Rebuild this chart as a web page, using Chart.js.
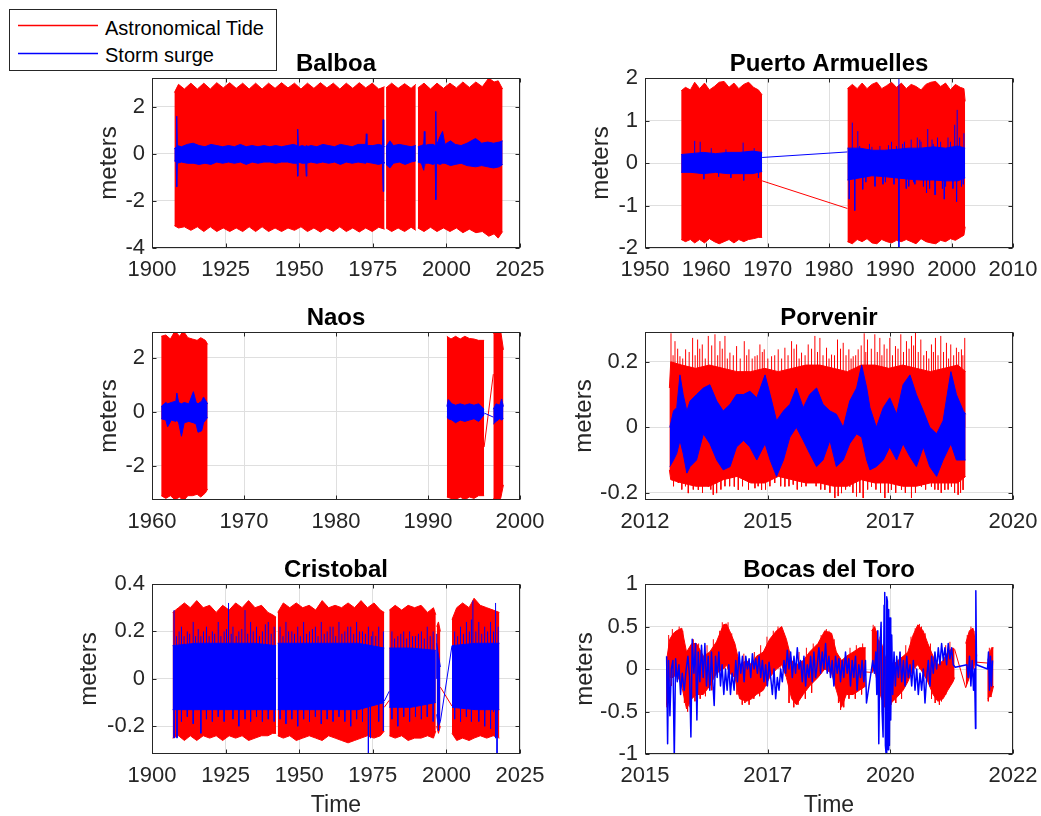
<!DOCTYPE html>
<html>
<head>
<meta charset="utf-8">
<title>Astronomical tide and storm surge</title>
<script src="https://cdn.jsdelivr.net/npm/chart.js@4.4.1/dist/chart.umd.min.js"></script>
<style>
  html, body { margin:0; padding:0; background:#ffffff; }
  body { width:1041px; height:816px; position:relative; overflow:hidden; font-family:'Liberation Sans', Arial, Helvetica, sans-serif; }
  canvas.panel { position:absolute; }
  #legend { position:absolute; left:9px; top:9px; width:268px; height:62px; box-sizing:border-box; border:1px solid #262626; background:#fff; z-index:5; }
  #legend canvas { position:absolute; left:8px; }
  #legend .lbl { position:absolute; left:95px; font-size:20px; line-height:20px; color:#000; white-space:nowrap; }
</style>
</head>
<body>
<div id="legend">
  <canvas id="sw0" width="80" height="3" style="top:14px;"></canvas>
  <div class="lbl" id="lb0" style="top:8px;"></div>
  <canvas id="sw1" width="80" height="3" style="top:42px;"></canvas>
  <div class="lbl" id="lb1" style="top:35px;"></div>
</div>
<script>
// ---------------- labels ----------------
const legendLabels = ['Astronomical Tide', 'Storm surge'];
const panelTitles = ['Balboa', 'Puerto Armuelles', 'Naos', 'Porvenir', 'Cristobal', 'Bocas del Toro'];
const yAxisLabel = 'meters';
const xAxisLabel = 'Time';

// ---------------- tick values / labels ----------------
const balboaXTicks = [1900, 1925, 1950, 1975, 2000, 2025];
const balboaXTickLabels = ['1900', '1925', '1950', '1975', '2000', '2025'];
const balboaYTicks = [-4, -2, 0, 2];
const balboaYTickLabels = ['-4', '-2', '0', '2'];
const puertoXTicks = [1950, 1960, 1970, 1980, 1990, 2000, 2010];
const puertoXTickLabels = ['1950', '1960', '1970', '1980', '1990', '2000', '2010'];
const puertoYTicks = [-2, -1, 0, 1, 2];
const puertoYTickLabels = ['-2', '-1', '0', '1', '2'];
const naosXTicks = [1960, 1970, 1980, 1990, 2000];
const naosXTickLabels = ['1960', '1970', '1980', '1990', '2000'];
const naosYTicks = [-2, 0, 2];
const naosYTickLabels = ['-2', '0', '2'];
const porvenirXTicks = [2012, 2014.667, 2017.333, 2020];
const porvenirXTickLabels = ['2012', '2015', '2017', '2020'];
const porvenirYTicks = [-0.2, 0, 0.2];
const porvenirYTickLabels = ['-0.2', '0', '0.2'];
const cristobalXTicks = [1900, 1925, 1950, 1975, 2000, 2025];
const cristobalXTickLabels = ['1900', '1925', '1950', '1975', '2000', '2025'];
const cristobalYTicks = [-0.2, 0, 0.2, 0.4];
const cristobalYTickLabels = ['-0.2', '0', '0.2', '0.4'];
const bocasXTicks = [2015, 2017.333, 2019.667, 2022];
const bocasXTickLabels = ['2015', '2017', '2020', '2022'];
const bocasYTicks = [-1, -0.5, 0, 0.5, 1];
const bocasYTickLabels = ['-1', '-0.5', '0', '0.5', '1'];

// ---------------- Balboa ----------------
const balboaTideX = [1907.6,1909.0,1911.0,1913.2,1915.4,1917.6,1919.8,1922.0,1924.2,1926.4,1928.6,1930.8,1933.0,1935.2,1937.4,1939.6,1941.8,1944.0,1946.2,1948.4,1950.6,1952.8,1955.0,1957.2,1959.4,1961.6,1963.8,1966.0,1968.2,1970.4,1972.6,1974.8,1977.0,1979.0,null,1979.5,1981.4,1983.6,1985.8,1988.0,1989.6,null,1990.3,1992.4,1994.6,1996.8,1999.0,2001.2,2003.4,2005.6,2007.8,2010.0,2012.2,2014.4,2016.2,2017.6,2019.1];
const balboaTideHi = [2.6,2.95,2.75,3.0,2.75,3.0,2.75,3.02,2.8,3.02,2.78,3.0,2.75,3.0,2.75,3.0,2.78,3.02,2.8,3.0,2.75,3.0,2.78,3.02,2.8,3.0,2.75,3.0,2.78,3.02,2.8,3.0,2.75,2.85,null,2.8,3.0,2.78,2.98,2.78,2.95,null,2.8,3.0,2.75,3.0,2.78,3.0,2.8,3.05,2.82,3.05,2.85,3.22,3.05,3.1,2.75];
const balboaTideLo = [-3.05,-3.15,-3.1,-3.25,-3.1,-3.3,-3.1,-3.3,-3.15,-3.3,-3.15,-3.3,-3.1,-3.3,-3.1,-3.3,-3.15,-3.3,-3.15,-3.25,-3.1,-3.3,-3.15,-3.32,-3.15,-3.3,-3.1,-3.3,-3.15,-3.32,-3.15,-3.3,-3.12,-3.2,null,-3.15,-3.3,-3.15,-3.3,-3.12,-3.25,null,-3.15,-3.3,-3.12,-3.3,-3.15,-3.3,-3.15,-3.35,-3.2,-3.35,-3.3,-3.5,-3.4,-3.58,-3.3];
const balboaSurgeX = [1907.6,1908.2,1908.4,1908.6,1910,1912,1914,1916,1918,1920,1922,1924,1926,1928,1930,1932,1934,1936,1938,1940,1942,1944,1946,1948,1949.3,1949.5,1949.7,1951,1952.2,1952.4,1952.6,1954,1956,1958,1960,1962,1964,1966,1968,1970,1972.6,1972.8,1973.0,1975,1977,1978.3,1978.5,1978.7,1979.0,null,1979.5,1980.8,1982,1984,1986,1988,1989.6,null,1990.3,1991.5,1992.3,1992.5,1992.7,1994,1995.5,1996.2,1996.4,1996.6,1997.9,1998.7,1999.5,2001.4,2003,2005,2007,2009.9,2012,2014,2016,2018,2019.1];
const balboaSurgeHi = [0.2,0.3,1.6,0.35,0.3,0.4,0.45,0.35,0.3,0.4,0.35,0.3,0.35,0.3,0.4,0.3,0.35,0.3,0.35,0.3,0.35,0.3,0.35,0.4,0.35,1.05,0.3,0.35,0.3,0.35,0.3,0.35,0.3,0.4,0.35,0.3,0.4,0.35,0.3,0.4,0.4,0.85,0.35,0.35,0.4,0.35,1.45,0.35,0.3,null,0.3,0.55,0.35,0.4,0.35,0.3,0.35,null,0.3,0.35,0.4,0.95,0.35,0.4,0.4,0.35,1.8,0.35,0.75,0.95,0.4,0.55,0.4,0.35,0.45,0.65,0.45,0.5,0.45,0.5,0.55];
const balboaSurgeLo = [-0.3,-0.35,-1.4,-0.4,-0.35,-0.4,-0.4,-0.45,-0.4,-0.45,-0.35,-0.4,-0.35,-0.4,-0.35,-0.45,-0.35,-0.4,-0.35,-0.35,-0.4,-0.35,-0.35,-0.4,-0.4,-0.95,-0.35,-0.4,-0.4,-0.95,-0.4,-0.35,-0.4,-0.35,-0.4,-0.35,-0.45,-0.35,-0.4,-0.35,-0.4,-0.35,-0.35,-0.4,-0.45,-0.4,-1.6,-0.45,-0.35,null,-0.45,-0.6,-0.4,-0.35,-0.45,-0.35,-0.3,null,-0.35,-0.4,-0.7,-0.5,-0.4,-0.4,-0.45,-0.4,-1.95,-0.4,-0.45,-0.4,-0.4,-0.5,-0.45,-0.4,-0.5,-0.55,-0.5,-0.55,-0.6,-0.55,-0.45];

// ---------------- Puerto Armuelles ----------------
const puertoTideX = [1955.9,1956.6,1957.4,1958.1,1958.9,1959.7,1960.5,1961.3,1962.1,1962.9,1963.7,1964.5,1965.3,1966.1,1966.9,1967.7,1968.5,1969.1,null,1983.0,1983.8,1984.6,1985.4,1986.2,1987.0,1987.8,1988.6,1989.4,1990.2,1991.0,1991.8,1992.6,1993.4,1994.2,1995.0,1995.8,1996.6,1997.4,1998.2,1999.0,1999.8,2000.6,2001.4,2002.0,2002.2];
const puertoTideHi = [1.7,1.78,1.72,1.9,1.75,1.88,1.72,1.8,1.9,1.92,1.78,1.88,1.75,1.85,1.9,1.78,1.72,1.6,null,1.75,1.85,1.75,1.88,1.75,1.85,1.9,1.75,1.82,1.9,1.78,1.88,1.75,1.85,1.8,1.72,1.85,1.9,1.92,1.8,1.88,1.72,1.85,1.78,1.75,1.45];
const puertoTideLo = [-1.8,-1.85,-1.8,-1.88,-1.8,-1.88,-1.78,-1.85,-1.9,-1.85,-1.8,-1.88,-1.8,-1.85,-1.8,-1.78,-1.75,-1.75,null,-1.85,-1.9,-1.8,-1.85,-1.78,-1.88,-1.9,-1.8,-1.85,-1.88,-1.82,-1.85,-1.8,-1.85,-1.9,-1.78,-1.85,-1.88,-1.9,-1.82,-1.85,-1.78,-1.82,-1.75,-1.7,-1.5];
const puertoTideLinkX = [1969.1, 1983.0];
const puertoTideLinkY = [-0.42, -1.07];
const puertoSurgeX = [1955.9,1957.5,1959.5,1961.5,1963.5,1965.5,1967.5,1969.1,null,1983.0,1985.0,1987.0,1989.0,1991.0,1993.0,1995.0,1997.0,1999.0,2001.0,2002.2];
const puertoSurgeHi = [0.2,0.22,0.25,0.22,0.25,0.25,0.28,0.25,null,0.35,0.35,0.3,0.3,0.32,0.35,0.35,0.38,0.35,0.4,0.35];
const puertoSurgeLo = [-0.22,-0.22,-0.25,-0.22,-0.25,-0.25,-0.25,-0.2,null,-0.4,-0.35,-0.3,-0.32,-0.35,-0.38,-0.4,-0.4,-0.42,-0.42,-0.35];
const puertoSurgeSpikeX = [1958.1,1959.0,1959.6,1960.8,1962.0,1963.2,1964.0,1966.0,1966.1,1967.8,1968.5,1983.3,1983.8,1984.2,1984.7,1985.0,1985.5,1986.0,1986.6,1987.0,1987.5,1988.3,1988.8,1989.2,1989.7,1990.2,1990.6,1991.0,1991.4,1991.4,1992.0,1992.3,1992.6,1993.0,1993.4,1993.8,1994.0,1994.4,1994.8,1995.0,1995.4,1995.9,1996.1,1996.4,1996.8,1997.0,1997.3,1997.7,1998.2,1998.5,1998.8,1999.0,1999.4,1999.8,2000.2,2000.5,2000.8,2000.9,2001.3,2001.6,2001.9,2002.0];
const puertoSurgeSpikeY = [0.52,0.5,-0.38,0.35,-0.32,0.32,-0.35,0.48,-0.41,0.35,-0.35,-0.85,0.95,-1.12,0.75,0.4,-0.62,-0.45,0.45,0.38,-0.55,0.4,-0.5,-0.45,0.42,0.5,-0.5,0.4,2.1,-2.1,0.45,0.5,-0.6,-0.55,0.55,-0.45,-0.5,0.6,0.55,0.5,-0.55,-0.7,0.8,-0.6,0.55,0.45,-0.75,0.6,0.5,-0.6,-0.85,-0.55,0.6,0.5,-0.6,0.9,-0.91,1.25,0.6,-0.55,-0.5,0.7];
const puertoSurgeLinkX = [1969.1, 1983.0];
const puertoSurgeLinkY = [0.13, 0.26];

// ---------------- Naos ----------------
const naosTideX = [1961.0,1961.5,1962.0,1962.5,1963.0,1963.4,1963.9,1964.4,1964.9,1965.3,1965.8,1966.05,null,1992.05,1992.5,1993.0,1993.5,1994.0,1994.5,1995.0,1995.5,1996.1,null,1997.1,1997.5,1997.9,1998.2];
const naosTideHi = [2.8,2.85,2.7,3.0,2.8,3.0,2.75,2.7,2.65,2.75,2.65,2.5,null,2.8,2.7,2.8,2.7,2.8,2.72,2.7,2.65,2.65,null,2.9,3.0,3.0,2.3];
const naosTideLo = [-3.1,-3.2,-3.1,-3.25,-3.15,-3.3,-3.1,-3.1,-3.05,-3.15,-3.0,-2.85,null,-3.15,-3.2,-3.25,-3.15,-3.25,-3.15,-3.2,-3.1,-3.1,null,-3.2,-3.3,-3.2,-2.7];
const naosTideLinkX = [1996.1, 1997.1];
const naosTideLinkY = [-1.3, 1.4];
const naosSurgeX = [1961.0,1961.5,1961.7,1962.1,1962.6,1962.7,1962.9,1963.2,1963.5,1964.0,1964.5,1964.8,1965.0,1965.4,1965.6,1966.05,null,1992.05,1992.2,1992.6,1993.0,1993.5,1994.0,1994.5,1995.0,1995.5,1996.1,null,1997.1,1997.4,1997.8,1998.0,1998.2];
const naosSurgeHi = [0.2,0.35,0.3,0.35,0.4,0.7,0.35,0.3,0.35,0.3,0.75,0.35,0.3,0.4,0.55,0.3,null,0.2,0.46,0.3,0.25,0.3,0.25,0.3,0.25,0.3,0.1,null,0.1,0.3,0.25,0.48,0.2];
const naosSurgeLo = [-0.25,-0.3,-0.55,-0.3,-0.35,-0.3,-0.4,-0.9,-0.4,-0.35,-0.4,-0.45,-0.75,-0.7,-0.4,-0.2,null,-0.2,-0.25,-0.3,-0.4,-0.3,-0.35,-0.3,-0.25,-0.35,-0.1,null,-0.45,-0.35,-0.25,-0.3,-0.25];
const naosSurgeLinkX = [1996.1, 1997.1];
const naosSurgeLinkY = [-0.04, -0.19];

// ---------------- Porvenir ----------------
const porvenirTideX = [2012.53,2012.56,2012.8,2013.1,2013.4,2013.7,2014.0,2014.3,2014.6,2014.9,2015.2,2015.5,2015.8,2016.1,2016.4,2016.7,2017.0,2017.3,2017.6,2017.9,2018.2,2018.5,2018.8,2018.97];
const porvenirTideHi = [0.12,0.2,0.19,0.18,0.19,0.18,0.17,0.17,0.18,0.17,0.18,0.19,0.19,0.18,0.17,0.19,0.19,0.18,0.19,0.18,0.17,0.18,0.19,0.17];
const porvenirTideLo = [-0.13,-0.16,-0.17,-0.18,-0.18,-0.16,-0.15,-0.17,-0.17,-0.15,-0.16,-0.17,-0.17,-0.18,-0.18,-0.16,-0.17,-0.17,-0.18,-0.18,-0.17,-0.17,-0.17,-0.15];
const porvenirTideSpikeUpX = [2012.565,2012.652,2012.760,2012.883,2013.035,2013.144,2013.245,2013.376,2013.521,2013.629,2013.738,2013.846,2013.991,2014.158,2014.259,2014.390,2014.498,2014.592,2014.752,2014.896,2015.041,2015.186,2015.295,2015.403,2015.548,2015.693,2015.802,2015.946,2016.055,2016.185,2016.309,2016.432,2016.526,2016.634,2016.765,2016.837,2016.996,2017.105,2017.199,2017.322,2017.445,2017.561,2017.684,2017.793,2017.880,2017.996,2018.119,2018.227,2018.314,2018.430,2018.553,2018.647,2018.770,2018.879,2018.951];
const porvenirTideSpikeUpY = [0.287,0.263,0.217,0.238,0.273,0.268,0.253,0.279,0.284,0.263,0.279,0.228,0.248,0.263,0.238,0.217,0.253,0.238,0.217,0.238,0.243,0.263,0.253,0.228,0.253,0.279,0.273,0.243,0.222,0.268,0.258,0.238,0.217,0.238,0.287,0.268,0.284,0.273,0.253,0.273,0.248,0.284,0.263,0.279,0.291,0.268,0.233,0.253,0.273,0.279,0.258,0.253,0.243,0.238,0.273];
const porvenirTideMinorUpX = [2012.61,2012.71,2012.82,2012.96,2013.09,2013.19,2013.31,2013.45,2013.58,2013.68,2013.79,2013.92,2014.07,2014.21,2014.33,2014.44,2014.55,2014.67,2014.82,2014.97,2015.11,2015.24,2015.35,2015.48,2015.62,2015.75,2015.87,2016.00,2016.12,2016.25,2016.37,2016.48,2016.58,2016.70,2016.80,2016.92,2017.05,2017.15,2017.26,2017.38,2017.50,2017.62,2017.74,2017.84,2017.94,2018.06,2018.17,2018.27,2018.37,2018.49,2018.60,2018.71,2018.82,2018.91];
const porvenirTideMinorUpY = [0.22,0.24,0.21,0.23,0.22,0.24,0.21,0.25,0.22,0.24,0.21,0.22,0.21,0.22,0.21,0.22,0.23,0.21,0.22,0.21,0.22,0.24,0.21,0.22,0.24,0.23,0.22,0.21,0.22,0.24,0.22,0.21,0.22,0.25,0.23,0.24,0.23,0.22,0.24,0.22,0.24,0.23,0.24,0.25,0.23,0.22,0.21,0.23,0.22,0.23,0.21,0.22,0.23,0.22];
const porvenirTideSpikeDownX = [2012.724,2012.941,2013.159,2013.376,2013.484,2013.557,2013.738,2013.941,2014.028,2014.390,2014.534,2014.715,2015.041,2015.222,2015.403,2015.621,2015.910,2016.127,2016.272,2016.453,2016.598,2016.743,2016.924,2017.214,2017.358,2017.576,2017.793,2018.010,2018.227,2018.372,2018.517,2018.662,2018.807,2018.915];
const porvenirTideSpikeDownY = [-0.17,-0.201,-0.191,-0.181,-0.206,-0.201,-0.18,-0.181,-0.191,-0.186,-0.191,-0.18,-0.181,-0.175,-0.181,-0.17,-0.191,-0.216,-0.201,-0.181,-0.211,-0.216,-0.181,-0.216,-0.191,-0.191,-0.216,-0.181,-0.181,-0.191,-0.191,-0.181,-0.206,-0.191];
const porvenirTideMinorDownX = [2012.62,2012.80,2012.88,2013.05,2013.25,2013.43,2013.65,2013.84,2014.12,2014.25,2014.46,2014.62,2014.82,2014.95,2015.13,2015.31,2015.50,2015.72,2015.82,2016.02,2016.20,2016.36,2016.52,2016.67,2016.84,2017.02,2017.12,2017.29,2017.45,2017.66,2017.88,2018.10,2018.30,2018.44,2018.59,2018.73,2018.86];
const porvenirTideMinorDownY = [-0.18,-0.19,-0.18,-0.19,-0.2,-0.19,-0.19,-0.18,-0.18,-0.19,-0.18,-0.19,-0.17,-0.18,-0.18,-0.19,-0.18,-0.18,-0.19,-0.2,-0.21,-0.19,-0.2,-0.2,-0.19,-0.19,-0.2,-0.2,-0.2,-0.2,-0.2,-0.19,-0.19,-0.2,-0.19,-0.2,-0.2];
const porvenirSurgeX = [2012.54,2012.62,2012.69,2012.76,2012.83,2012.91,2012.98,2013.12,2013.27,2013.41,2013.56,2013.70,2013.85,2013.99,2014.14,2014.28,2014.43,2014.61,2014.72,2014.86,2015.01,2015.15,2015.29,2015.44,2015.58,2015.73,2015.87,2016.02,2016.16,2016.31,2016.45,2016.60,2016.71,2016.82,2016.89,2017.03,2017.18,2017.32,2017.47,2017.61,2017.76,2017.90,2018.05,2018.19,2018.34,2018.48,2018.65,2018.77,2018.92,2018.97];
const porvenirSurgeHi = [0.0,0.05,0.06,0.16,0.1,0.05,0.08,0.1,0.12,0.13,0.08,0.05,0.07,0.1,0.1,0.11,0.09,0.16,0.1,0.02,0.05,0.07,0.12,0.06,0.1,0.12,0.07,0.05,0.04,0.0,0.08,0.12,0.19,0.12,0.06,0.0,0.06,0.09,0.04,0.13,0.16,0.1,0.05,0.0,-0.02,0.02,0.17,0.1,0.05,0.04];
const porvenirSurgeLo = [-0.12,-0.1,-0.08,-0.04,-0.08,-0.14,-0.12,-0.1,-0.02,-0.05,-0.1,-0.13,-0.12,-0.06,-0.04,-0.06,-0.1,-0.05,-0.1,-0.15,-0.1,-0.03,0.0,-0.04,-0.08,-0.12,-0.1,-0.04,-0.12,-0.1,-0.05,-0.02,-0.03,-0.1,-0.13,-0.12,-0.1,-0.06,-0.1,-0.05,-0.09,-0.12,-0.06,-0.12,-0.15,-0.1,-0.05,-0.1,-0.1,-0.1];

// ---------------- Cristobal ----------------
const cristobalTideX = [1907.0,1909.0,1911.0,1913.0,1915.2,1917.4,1919.6,1921.8,1924.0,1926.2,1928.4,1930.6,1932.8,1935.0,1937.2,1939.4,1941.0,1942.15,null,1942.7,1944.6,1946.8,1949.0,1951.2,1953.4,1955.6,1957.8,1960.0,1962.2,1964.4,1966.6,1968.8,1971.0,1973.2,1975.4,1977.6,1978.9,null,1980.6,1982.6,1984.8,1987.0,1989.2,1991.4,1993.6,1995.6,1996.4,null,1996.7,1997.3,1997.95,null,2001.9,2003.5,2005.5,2007.7,2009.4,2011.5,2013.7,2015.9,2018.0];
const cristobalTideHi = [0.28,0.3,0.32,0.3,0.33,0.3,0.31,0.28,0.31,0.29,0.32,0.3,0.33,0.3,0.31,0.28,0.27,0.26,null,0.28,0.32,0.3,0.32,0.3,0.31,0.29,0.33,0.3,0.31,0.3,0.32,0.3,0.33,0.3,0.32,0.29,0.28,null,0.29,0.31,0.29,0.31,0.3,0.31,0.28,0.3,0.27,null,0.22,0.24,0.2,null,0.25,0.3,0.32,0.3,0.34,0.31,0.3,0.29,0.28];
const cristobalTideLo = [-0.25,-0.24,-0.26,-0.24,-0.26,-0.24,-0.25,-0.24,-0.26,-0.24,-0.25,-0.24,-0.26,-0.25,-0.24,-0.24,-0.23,-0.23,null,-0.24,-0.25,-0.24,-0.26,-0.25,-0.24,-0.25,-0.26,-0.24,-0.25,-0.26,-0.27,-0.26,-0.25,-0.24,-0.25,-0.24,-0.22,null,-0.24,-0.25,-0.24,-0.26,-0.25,-0.25,-0.24,-0.25,-0.22,null,-0.2,-0.23,-0.2,null,-0.23,-0.26,-0.25,-0.26,-0.25,-0.24,-0.25,-0.24,-0.25];
const cristobalTideLinkX = [1978.9, 1980.6, null, 1997.95, 2001.9];
const cristobalTideLinkY = [-0.12, -0.09, null, -0.035, -0.115];
const cristobalSurgeX = [1907.0,1915.0,1925.0,1935.0,1942.15,null,1942.7,1950.0,1960.0,1970.0,1978.9,null,1980.6,1988.0,1996.4,null,1996.7,1997.3,1997.95,null,2001.9,2010.0,2018.0];
const cristobalSurgeHi = [0.14,0.15,0.15,0.15,0.14,null,0.15,0.15,0.15,0.15,0.13,null,0.13,0.13,0.12,null,0.15,0.1,0.05,null,0.14,0.15,0.15];
const cristobalSurgeLo = [-0.13,-0.13,-0.13,-0.13,-0.13,null,-0.13,-0.13,-0.13,-0.13,-0.1,null,-0.12,-0.12,-0.1,null,-0.15,-0.2,-0.18,null,-0.12,-0.13,-0.13];
const cristobalSurgeSpikeUpX = [1907.5,1908.3,1909.2,1910.0,1910.9,1912.0,1912.8,1914.0,1914.8,1915.7,1916.6,1917.5,1918.5,1919.4,1920.5,1921.3,1922.5,1923.4,1924.5,1925.3,1926.0,1926.9,1927.5,1928.6,1929.5,1930.5,1931.6,1932.5,1933.5,1934.4,1935.5,1936.5,1937.5,1938.5,1939.5,1940.5,1941.5,
  1943.5,1944.5,1945.5,1946.4,1947.5,1948.4,1949.5,1950.4,1951.5,1952.5,1953.5,1954.5,1955.5,1956.4,1957.5,1958.5,1959.5,1960.5,1961.5,1962.4,1963.5,1964.5,1965.5,1966.5,1967.5,1968.5,1969.5,1970.5,1971.5,1972.5,1973.5,1974.5,1975.0,1976.0,1977.0,1978.6,
  1981.5,1982.4,1983.5,1984.5,1985.5,1986.5,1987.5,1988.5,1989.5,1990.5,1991.5,1992.5,1993.5,1994.5,1995.5,1996.7,
  2002.8,2003.8,2004.8,2005.8,2006.8,2007.8,2008.5,2009.0,2010.0,2011.0,2012.0,2013.0,2014.0,2015.0,2016.0,2016.7,2017.6];
const cristobalSurgeSpikeUpY = [0.29,0.18,0.2,0.22,0.18,0.2,0.19,0.24,0.18,0.21,0.18,0.2,0.22,0.18,0.2,0.19,0.24,0.18,0.2,0.21,0.32,0.19,0.22,0.18,0.2,0.21,0.29,0.19,0.24,0.2,0.22,0.18,0.2,0.23,0.24,0.19,0.22,
  0.22,0.18,0.24,0.2,0.2,0.19,0.22,0.18,0.24,0.19,0.2,0.21,0.22,0.18,0.24,0.19,0.2,0.22,0.22,0.18,0.24,0.19,0.2,0.22,0.22,0.19,0.24,0.2,0.2,0.19,0.22,0.18,0.2,0.18,0.22,0.2,
  0.2,0.17,0.18,0.19,0.2,0.17,0.2,0.18,0.18,0.19,0.2,0.17,0.22,0.18,0.2,0.19,
  0.2,0.18,0.22,0.19,0.24,0.2,0.25,0.33,0.2,0.24,0.19,0.22,0.2,0.24,0.2,0.32,0.22];
const cristobalSurgeSpikeDownX = [1907.5,1908.5,1910.0,1912.0,1914.0,1916.6,1918.5,1920.5,1922.5,1924.5,1927.5,1929.5,1931.6,1933.5,1935.5,1937.5,1939.5,1941.5,1943.5,1945.5,1947.5,1949.5,1951.5,1953.5,1955.5,1957.5,1959.5,1961.5,1963.5,1965.5,1967.5,1969.5,1971.5,1973.5,1974.2,1977.0,1978.6,1981.5,1983.5,1985.5,1987.5,1989.5,1991.5,1993.5,1995.5,1997.3,2002.8,2004.8,2006.8,2008.5,2011.0,2013.0,2015.0,2016.0,2016.7,2017.2];
const cristobalSurgeSpikeDownY = [-0.25,-0.25,-0.18,-0.16,-0.19,-0.23,-0.17,-0.18,-0.16,-0.18,-0.17,-0.2,-0.17,-0.18,-0.16,-0.18,-0.17,-0.18,-0.17,-0.19,-0.17,-0.2,-0.17,-0.18,-0.16,-0.19,-0.17,-0.18,-0.16,-0.18,-0.2,-0.17,-0.18,-0.35,-0.25,-0.18,-0.22,-0.17,-0.2,-0.16,-0.18,-0.16,-0.17,-0.16,-0.18,-0.22,-0.17,-0.18,-0.16,-0.18,-0.18,-0.2,-0.21,-0.14,-0.25,-0.35];
const cristobalSurgeLinkX = [1978.9, 1980.6, null, 1997.95, 2001.9];
const cristobalSurgeLinkY = [-0.094, -0.052, null, -0.18, 0.14];

// ---------------- Bocas del Toro ----------------
const bocasTideX = [2015.41,2015.47,2015.54,2015.60,2015.70,2015.79,2015.89,2015.98,2016.11,2016.23,2016.36,2016.49,2016.55,2016.61,2016.71,2016.80,2016.93,2017.03,2017.12,2017.25,2017.37,2017.50,2017.60,2017.69,2017.79,2017.88,2018.01,2018.13,2018.29,2018.42,2018.55,2018.64,2018.74,2018.83,2018.96,2019.08,2019.20,null,
  2019.31,2019.37,2019.43,2019.50,2019.59,2019.72,2019.81,2019.91,2020.00,2020.10,2020.19,2020.29,2020.38,2020.48,2020.57,2020.67,2020.76,2020.86,2020.89,null,
  2021.10,2021.17,2021.24,2021.29,2021.31,null,
  2021.52,2021.59,2021.63];
const bocasTideHi = [0.1,0.35,0.42,0.45,0.48,0.2,0.3,0.3,0.15,0.2,0.32,0.52,0.53,0.45,0.3,0.05,0.1,0.05,0.15,0.2,0.35,0.45,0.5,0.35,0.1,0.05,0.1,0.2,0.3,0.45,0.42,0.2,0.1,0.15,0.2,0.25,0.25,null,
  0.45,0.5,0.35,0.3,0.1,0.05,0.1,0.15,0.2,0.4,0.52,0.45,0.3,0.15,0.05,0.1,0.2,0.25,0.23,null,
  0.3,0.45,0.48,0.3,0.15,null,
  0.1,0.25,0.25];
const bocasTideLo = [-0.42,-0.1,-0.1,-0.05,-0.2,-0.47,-0.35,-0.3,-0.3,-0.2,-0.05,0.0,0.05,-0.05,-0.1,-0.35,-0.38,-0.35,-0.3,-0.25,-0.1,0.0,0.05,-0.1,-0.35,-0.42,-0.3,-0.2,-0.1,0.0,-0.05,-0.25,-0.45,-0.3,-0.3,-0.25,-0.2,null,
  -0.05,0.0,-0.2,-0.35,-0.45,-0.38,-0.32,-0.25,-0.15,0.0,0.05,-0.05,-0.15,-0.3,-0.38,-0.35,-0.25,-0.15,-0.1,null,
  -0.22,-0.1,0.0,0.1,0.08,null,
  -0.35,-0.3,-0.2];
const bocasTideSpikeUpX = [2015.45,2015.52,2015.58,2015.65,2015.72,2015.92,2016.02,2016.18,2016.30,2016.42,2016.47,2016.52,2016.58,2016.65,2016.88,2017.08,2017.20,2017.32,2017.44,2017.53,2017.57,2017.64,2017.93,2018.07,2018.20,2018.35,2018.45,2018.50,2018.60,2018.90,2019.02,2019.14,2019.34,2019.40,2019.47,2019.85,2019.96,2020.06,2020.14,2020.22,2020.26,2020.33,2020.43,2020.72,2020.80,2021.13,2021.20,2021.26,2021.55,2021.61];
const bocasTideSpikeUpY = [0.4,0.47,0.38,0.5,0.45,0.35,0.3,0.28,0.35,0.45,0.55,0.5,0.55,0.42,0.18,0.2,0.28,0.38,0.45,0.5,0.48,0.42,0.2,0.25,0.3,0.4,0.47,0.45,0.35,0.25,0.28,0.3,0.52,0.45,0.38,0.2,0.28,0.38,0.48,0.53,0.5,0.42,0.3,0.28,0.32,0.4,0.5,0.45,0.25,0.25];
const bocasTideSpikeDownX = [2015.42,2015.50,2015.75,2015.81,2015.86,2015.95,2016.05,2016.15,2016.27,2016.75,2016.85,2016.90,2016.98,2017.07,2017.18,2017.30,2017.74,2017.83,2017.91,2018.05,2018.17,2018.68,2018.72,2018.78,2018.88,2019.00,2019.12,2019.46,2019.55,2019.63,2019.68,2019.77,2019.88,2020.45,2020.52,2020.60,2020.64,2020.72,2021.53,2021.58];
const bocasTideSpikeDownY = [-0.45,-0.2,-0.4,-0.5,-0.45,-0.38,-0.35,-0.32,-0.25,-0.3,-0.42,-0.4,-0.42,-0.35,-0.32,-0.2,-0.4,-0.45,-0.42,-0.35,-0.28,-0.4,-0.48,-0.45,-0.35,-0.35,-0.3,-0.32,-0.45,-0.47,-0.42,-0.4,-0.35,-0.35,-0.4,-0.42,-0.38,-0.3,-0.38,-0.33];
const bocasTideLinkX = [2019.20, 2019.31, null, 2020.89, 2021.10, null, 2021.31, 2021.52];
const bocasTideLinkY = [-0.035, -0.04, null, 0.23, -0.22, null, 0.08, 0.07];
const bocasSurgeX = [2015.411,2015.430,2015.449,2015.474,2015.500,2015.531,2015.557,2015.582,2015.614,2015.645,
  2015.677,2015.708,2015.746,2015.784,2015.816,2015.848,2015.873,2015.898,2015.930,2015.961,
  2015.987,2016.012,2016.044,2016.075,2016.107,2016.139,2016.170,2016.202,2016.233,2016.265,
  2016.290,2016.316,2016.341,2016.373,2016.404,2016.436,2016.467,2016.499,2016.531,2016.562,
  2016.594,2016.626,2016.657,2016.695,2016.727,2016.758,2016.790,2016.822,2016.853,2016.885,
  2016.917,2016.948,2016.980,2017.011,2017.043,2017.075,2017.106,2017.138,2017.170,2017.201,
  2017.233,2017.264,2017.296,2017.328,2017.359,2017.391,2017.423,2017.454,2017.486,2017.517,
  2017.549,2017.581,2017.612,2017.644,2017.676,2017.707,2017.739,2017.770,2017.802,2017.834,
  2017.865,2017.897,2017.929,2017.960,2017.992,2018.023,2018.055,2018.087,2018.118,2018.150,
  2018.182,2018.213,2018.245,2018.276,2018.308,2018.340,2018.371,2018.403,2018.435,2018.466,
  2018.498,2018.529,2018.561,2018.593,2018.624,2018.656,2018.688,2018.719,2018.751,2018.782,
  2018.814,2018.846,2018.877,2018.909,2018.941,2018.972,2019.004,2019.035,2019.067,2019.099,
  2019.130,2019.162,2019.194,2019.213,2019.333,2019.364,2019.390,2019.409,2019.428,2019.447,
  2019.472,2019.491,2019.510,2019.529,2019.548,2019.560,2019.573,2019.586,2019.598,2019.611,
  2019.624,2019.636,2019.649,2019.662,2019.674,2019.693,2019.712,2019.737,2019.763,2019.788,
  2019.820,2019.851,2019.883,2019.915,2019.946,2019.978,2020.009,2020.041,2020.073,2020.104,
  2020.136,2020.168,2020.199,2020.231,2020.262,2020.294,2020.326,2020.357,2020.389,2020.421,
  2020.452,2020.484,2020.515,2020.547,2020.579,2020.610,2020.642,2020.674,2020.705,2020.737,
  2020.768,2020.800,2020.832,2020.863,2020.901,2021.123,2021.148,2021.173,2021.199,2021.224,
  2021.249,2021.268,2021.287,2021.293,2021.306,2021.515,2021.534,2021.553,2021.572,2021.591,
  2021.610];
const bocasSurgeY = [0.15,-0.88,0.1,-0.55,0.0,0.1,-1.05,0.12,-0.15,0.05,
  -0.3,-0.05,-0.25,0.0,0.15,-0.1,-0.8,0.35,-0.05,0.3,
  -0.6,0.2,-0.15,0.28,-0.1,0.3,-0.2,0.15,-0.25,0.2,
  -0.15,-0.43,0.15,-0.1,0.2,-0.2,0.05,-0.3,0.0,-0.25,
  0.05,-0.3,-0.05,-0.25,0.1,-0.15,0.2,-0.05,0.15,-0.15,
  0.15,0.0,0.12,-0.1,0.18,0.0,0.12,-0.05,0.15,-0.1,
  0.1,-0.15,0.05,-0.2,0.08,-0.1,-0.3,0.0,-0.35,-0.1,
  -0.25,0.0,-0.15,0.1,-0.05,0.22,0.0,0.2,-0.1,0.15,
  -0.05,0.25,0.0,0.1,-0.15,0.15,-0.2,0.05,-0.1,0.15,
  -0.15,0.2,-0.1,0.05,0.25,-0.05,0.2,0.0,0.3,-0.05,
  0.15,-0.1,0.1,-0.2,0.15,-0.05,0.12,-0.15,0.1,-0.1,
  0.2,-0.05,0.12,-0.2,0.1,-0.1,0.15,-0.25,0.05,-0.1,
  0.1,-0.15,0.1,-0.4,0.1,-0.05,0.2,-0.3,0.45,-0.88,
  0.3,0.55,-0.5,-0.8,0.75,0.9,-0.9,-1.0,0.85,0.8,
  -0.95,0.7,-0.9,0.6,-0.6,0.4,-0.3,0.2,-0.2,0.15,
  -0.1,0.2,-0.15,0.1,-0.2,0.15,-0.1,0.05,-0.2,0.1,
  -0.25,0.0,-0.3,-0.05,-0.25,0.0,-0.4,-0.1,0.1,-0.2,
  0.15,-0.05,0.2,0.0,0.25,0.05,0.3,0.1,0.25,0.05,
  0.3,0.12,0.25,0.05,0.02,0.05,-0.1,0.15,-0.2,0.1,
  -0.25,0.0,-0.7,0.92,0.05,0.0,0.2,-0.25,0.15,-0.2,
  0.1];

// ---------------- styling ----------------
const FONT = "'Liberation Sans', Arial, Helvetica, sans-serif";
const RED = '#ff0000', BLUE = '#0000ff';
const AXIS_COLOR = '#262626', GRID_COLOR = '#dfdfdf';
Chart.defaults.font.family = FONT;

// legend: text as HTML, sample lines drawn on small canvases
document.getElementById('lb0').textContent = legendLabels[0];
document.getElementById('lb1').textContent = legendLabels[1];
[['sw0', RED], ['sw1', BLUE]].forEach(([id, col]) => {
  const g = document.getElementById(id).getContext('2d');
  g.strokeStyle = col; g.lineWidth = 1.3;
  g.beginPath(); g.moveTo(0, 1.5); g.lineTo(80, 1.5); g.stroke();
});

// ---------------- helpers building datasets from the arrays ----------------
function bandDatasets(xs, hi, lo, color, order) {
  const out = [], segs = [];
  let cur = null;
  for (let i = 0; i < xs.length; i++) {
    if (xs[i] === null) { cur = null; continue; }
    if (!cur) { cur = { hi: [], lo: [] }; segs.push(cur); }
    cur.hi.push({ x: xs[i], y: hi[i] });
    cur.lo.push({ x: xs[i], y: lo[i] });
  }
  for (const s of segs) {
    out.push({ data: s.hi, borderColor: color, backgroundColor: color, borderWidth: 1, pointRadius: 0, borderJoinStyle: 'round', fill: '+1', order });
    out.push({ data: s.lo, borderColor: color, backgroundColor: color, borderWidth: 1, pointRadius: 0, borderJoinStyle: 'round', fill: false, order });
  }
  return out;
}
function lineDataset(xs, ys, color, order, width) {
  const pts = [];
  for (let i = 0; i < xs.length; i++) {
    if (xs[i] === null) { pts.push({ x: pts.length ? pts[pts.length - 1].x : 0, y: null }); continue; }
    pts.push({ x: xs[i], y: ys[i] });
  }
  return { data: pts, borderColor: color, borderWidth: width || 1, pointRadius: 0, fill: false, spanGaps: false, borderJoinStyle: 'round', order };
}
function spikeDataset(xs, ys, color, order) {
  const pts = [];
  for (let i = 0; i < xs.length; i++) {
    pts.push({ x: xs[i], y: 0 }, { x: xs[i], y: ys[i] }, { x: xs[i], y: null });
  }
  return { data: pts, borderColor: color, borderWidth: 1, pointRadius: 0, fill: false, spanGaps: false, order };
}

const framePlugin = {
  id: 'matlabFrame',
  afterDatasetsDraw(chart) {
    const { ctx, chartArea: a, scales } = chart;
    const L = Math.round(a.left) + 0.5, R = Math.round(a.right) - 0.5;
    const T = Math.round(a.top) + 0.5, B = Math.round(a.bottom) - 0.5;
    ctx.save();
    ctx.strokeStyle = AXIS_COLOR;
    ctx.lineWidth = 1;
    ctx.beginPath();
    for (const t of scales.x.ticks) {
      const px = Math.round(scales.x.getPixelForValue(t.value)) + 0.5;
      ctx.moveTo(px, B); ctx.lineTo(px, B - 4);
      ctx.moveTo(px, T); ctx.lineTo(px, T + 4);
    }
    for (const t of scales.y.ticks) {
      const py = Math.round(scales.y.getPixelForValue(t.value)) + 0.5;
      ctx.moveTo(L, py); ctx.lineTo(L + 4, py);
      ctx.moveTo(R, py); ctx.lineTo(R - 4, py);
    }
    ctx.stroke();
    ctx.strokeRect(L, T, R - L, B - T);
    ctx.restore();
  }
};

// ---------------- panels ----------------
const AX_W = 368, Y_W = 80, TOP_H = 45, RIGHT_PAD = 35;
const panels = [
  { title: panelTitles[0], left: 152, top: 78, h: 170, time: false, yPad: 25,
    xMin: 1900, xMax: 2025, xTicks: balboaXTicks, xLabels: balboaXTickLabels,
    yMin: -4, yMax: 3.22, yTicks: balboaYTicks, yLabels: balboaYTickLabels,
    datasets: [...bandDatasets(balboaSurgeX, balboaSurgeHi, balboaSurgeLo, BLUE, 1),
               ...bandDatasets(balboaTideX, balboaTideHi, balboaTideLo, RED, 2)] },
  { title: panelTitles[1], left: 645, top: 78, h: 170, time: false, yPad: 24,
    xMin: 1950, xMax: 2010, xTicks: puertoXTicks, xLabels: puertoXTickLabels,
    yMin: -2, yMax: 2, yTicks: puertoYTicks, yLabels: puertoYTickLabels,
    datasets: [...bandDatasets(puertoSurgeX, puertoSurgeHi, puertoSurgeLo, BLUE, 1),
               spikeDataset(puertoSurgeSpikeX, puertoSurgeSpikeY, BLUE, 1),
               lineDataset(puertoSurgeLinkX, puertoSurgeLinkY, BLUE, 1),
               ...bandDatasets(puertoTideX, puertoTideHi, puertoTideLo, RED, 2),
               lineDataset(puertoTideLinkX, puertoTideLinkY, RED, 2)] },
  { title: panelTitles[2], left: 152, top: 332, h: 168, time: false, yPad: 25,
    xMin: 1960, xMax: 2000, xTicks: naosXTicks, xLabels: naosXTickLabels,
    yMin: -3.26, yMax: 2.96, yTicks: naosYTicks, yLabels: naosYTickLabels,
    datasets: [...bandDatasets(naosSurgeX, naosSurgeHi, naosSurgeLo, BLUE, 1),
               lineDataset(naosSurgeLinkX, naosSurgeLinkY, BLUE, 1),
               ...bandDatasets(naosTideX, naosTideHi, naosTideLo, RED, 2),
               lineDataset(naosTideLinkX, naosTideLinkY, RED, 2)] },
  { title: panelTitles[3], left: 645, top: 332, h: 168, time: false, yPad: 7.5,
    xMin: 2012, xMax: 2020, xTicks: porvenirXTicks, xLabels: porvenirXTickLabels,
    yMin: -0.222, yMax: 0.291, yTicks: porvenirYTicks, yLabels: porvenirYTickLabels,
    datasets: [...bandDatasets(porvenirSurgeX, porvenirSurgeHi, porvenirSurgeLo, BLUE, 1),
               ...bandDatasets(porvenirTideX, porvenirTideHi, porvenirTideLo, RED, 2),
               spikeDataset(porvenirTideSpikeUpX, porvenirTideSpikeUpY, RED, 2),
               spikeDataset(porvenirTideMinorUpX, porvenirTideMinorUpY, RED, 2),
               spikeDataset(porvenirTideSpikeDownX, porvenirTideSpikeDownY, RED, 2),
               spikeDataset(porvenirTideMinorDownX, porvenirTideMinorDownY, RED, 2)] },
  { title: panelTitles[4], left: 152, top: 584, h: 170, time: true, yPad: 5.5,
    xMin: 1900, xMax: 2025, xTicks: cristobalXTicks, xLabels: cristobalXTickLabels,
    yMin: -0.317, yMax: 0.4, yTicks: cristobalYTicks, yLabels: cristobalYTickLabels,
    datasets: [...bandDatasets(cristobalSurgeX, cristobalSurgeHi, cristobalSurgeLo, BLUE, 1),
               spikeDataset(cristobalSurgeSpikeUpX, cristobalSurgeSpikeUpY, BLUE, 1),
               spikeDataset(cristobalSurgeSpikeDownX, cristobalSurgeSpikeDownY, BLUE, 1),
               lineDataset(cristobalSurgeLinkX, cristobalSurgeLinkY, BLUE, 1),
               ...bandDatasets(cristobalTideX, cristobalTideHi, cristobalTideLo, RED, 2),
               lineDataset(cristobalTideLinkX, cristobalTideLinkY, RED, 2)] },
  { title: panelTitles[5], left: 645, top: 584, h: 170, time: true, yPad: 8.5,
    xMin: 2015, xMax: 2022, xTicks: bocasXTicks, xLabels: bocasXTickLabels,
    yMin: -1, yMax: 1, yTicks: bocasYTicks, yLabels: bocasYTickLabels,
    datasets: [lineDataset(bocasSurgeX, bocasSurgeY, BLUE, 1, 1.5),
               ...bandDatasets(bocasTideX, bocasTideHi, bocasTideLo, RED, 2),
               spikeDataset(bocasTideSpikeUpX, bocasTideSpikeUpY, RED, 2),
               spikeDataset(bocasTideSpikeDownX, bocasTideSpikeDownY, RED, 2),
               lineDataset(bocasTideLinkX, bocasTideLinkY, RED, 2)] }
];

for (const p of panels) {
  const xH = p.time ? 70 : 40;
  const W = Y_W + AX_W + RIGHT_PAD, H = TOP_H + p.h + xH;
  const c = document.createElement('canvas');
  c.className = 'panel';
  c.width = W; c.height = H;
  c.style.width = W + 'px'; c.style.height = H + 'px';
  c.style.left = (p.left - Y_W) + 'px';
  c.style.top = (p.top - TOP_H) + 'px';
  document.body.appendChild(c);

  new Chart(c.getContext('2d'), {
    type: 'line',
    data: { datasets: p.datasets },
    plugins: [framePlugin],
    options: {
      responsive: false,
      animation: false,
      devicePixelRatio: 1,
      events: [],
      layout: { padding: { left: 0, right: RIGHT_PAD, top: 0, bottom: 0 } },
      plugins: {
        legend: { display: false },
        tooltip: { enabled: false },
        title: {
          display: true, text: p.title, color: '#000000', fullSize: false,
          font: { family: FONT, size: 24, weight: 'bold', lineHeight: 1 },
          padding: { top: 19.6, bottom: 1.4 }
        }
      },
      scales: {
        x: {
          type: 'linear', position: 'bottom', min: p.xMin, max: p.xMax,
          afterBuildTicks: (s) => { s.ticks = p.xTicks.map(v => ({ value: v })); },
          afterFit: (s) => { s.height = xH; s.paddingLeft = 0; s.paddingRight = 0; },
          ticks: {
            autoSkip: false, maxRotation: 0, minRotation: 0, padding: 9,
            color: AXIS_COLOR, font: { family: FONT, size: 22 },
            callback: (v, i) => p.xLabels[i]
          },
          grid: { color: GRID_COLOR, lineWidth: 1, drawTicks: false },
          border: { display: false },
          title: {
            display: p.time, text: xAxisLabel, color: AXIS_COLOR,
            font: { family: FONT, size: 23, lineHeight: 1 },
            padding: { top: 0, bottom: 7 }
          }
        },
        y: {
          type: 'linear', position: 'left', min: p.yMin, max: p.yMax,
          afterBuildTicks: (s) => { s.ticks = p.yTicks.map(v => ({ value: v })); },
          afterFit: (s) => { s.width = Y_W; s.paddingTop = 0; s.paddingBottom = 0; },
          ticks: {
            autoSkip: false, padding: 7,
            color: AXIS_COLOR, font: { family: FONT, size: 22 },
            callback: (v, i) => p.yLabels[i]
          },
          grid: { color: GRID_COLOR, lineWidth: 1, drawTicks: false },
          border: { display: false },
          title: {
            display: true, text: yAxisLabel, color: AXIS_COLOR,
            font: { family: FONT, size: 24, lineHeight: 1 },
            padding: { top: p.yPad, bottom: 0 }
          }
        }
      }
    }
  });
}
</script>
</body>
</html>
